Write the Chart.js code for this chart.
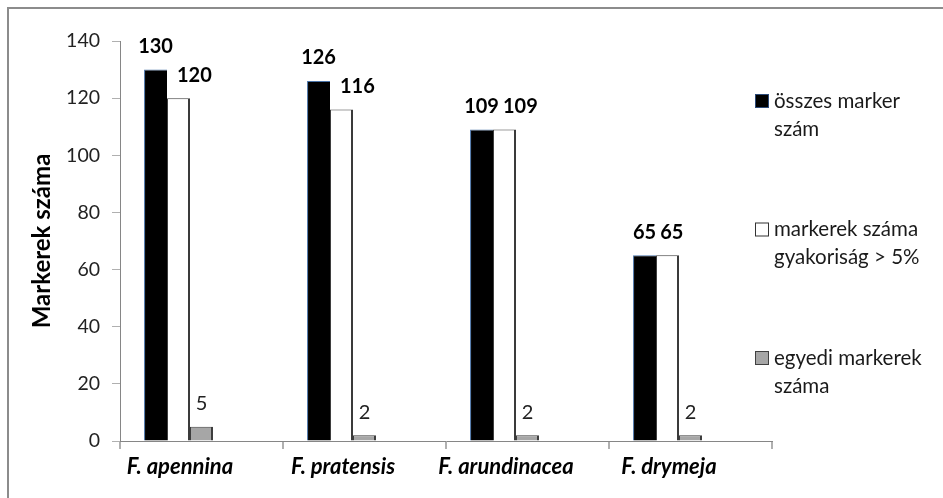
<!DOCTYPE html>
<html>
<head>
<meta charset="utf-8">
<script src="https://cdn.jsdelivr.net/npm/chart.js@4.4.0/dist/chart.umd.min.js"></script>
<style>
  html, body { margin: 0; padding: 0; background: #fff; }
  #wrap { width: 943px; height: 498px; position: relative; }
</style>
</head>
<body>
<div id="wrap"><canvas id="markers"></canvas></div>
<script>
// chart data
const categories = ["F. apennina", "F. pratensis", "F. arundinacea", "F. drymeja"];
const totalMarkers = [130, 126, 109, 65];
const frequentMarkers = [120, 116, 109, 65];
const uniqueMarkers = [5, 2, 2, 2];
const yTicks = [0, 20, 40, 60, 80, 100, 120, 140];
const legendLines = [
  ["összes marker", "szám"],
  ["markerek száma", "gyakoriság > 5%"],
  ["egyedi markerek", "száma"]
];

const axisGrey = "#868686";
const swatches = [
  { fill: "#000000", stroke: "#2c4a78" },
  { fill: "#ffffff", stroke: "#333333" },
  { fill: "#a6a6a6", stroke: "#404040" }
];

// frame, value labels and the wrapped legend
const decorations = {
  id: "decorations",
  beforeDraw(chart) {
    const ctx = chart.ctx;
    ctx.save();
    ctx.fillStyle = "#fff";
    ctx.fillRect(0, 0, chart.width, chart.height);
    ctx.strokeStyle = "#8c8c8c";
    ctx.lineWidth = 2;
    ctx.beginPath();
    ctx.moveTo(8, chart.height);
    ctx.lineTo(8, 8);
    ctx.lineTo(chart.width, 8);
    ctx.stroke();
    ctx.restore();
  },
  afterDatasetsDraw(chart) {
    const ctx = chart.ctx;
    ctx.save();
    ctx.textAlign = "center";
    ctx.textBaseline = "middle";
    const blackMeta = chart.getDatasetMeta(0);
    const whiteMeta = chart.getDatasetMeta(1);
    const greyMeta = chart.getDatasetMeta(2);
    categories.forEach(function (c, i) {
      // first series, centred on the bar
      ctx.font = "bold 20px Lato";
      ctx.fillStyle = "#000";
      const b = blackMeta.data[i];
      const t1 = String(totalMarkers[i]);
      const w1 = ctx.measureText(t1).width;
      ctx.fillText(t1, b.x, b.y - 23);
      // second series, pushed right when it would run into the first
      const w = whiteMeta.data[i];
      const t2 = String(frequentMarkers[i]);
      const w2 = ctx.measureText(t2).width;
      const x2 = Math.max(w.x, b.x + w1 / 2 + 4 + w2 / 2);
      ctx.fillText(t2, x2, w.y - 23);
      // third series
      ctx.font = "20px Lato";
      ctx.fillStyle = "#222";
      const g = greyMeta.data[i];
      ctx.fillText(String(uniqueMarkers[i]), g.x, g.y - 23);
    });

    // legend
    ctx.textAlign = "left";
    ctx.font = "20.5px Lato";
    legendLines.forEach(function (lines, k) {
      const y0 = 101 + k * 128.5;
      ctx.fillStyle = swatches[k].fill;
      ctx.strokeStyle = swatches[k].stroke;
      ctx.lineWidth = 1;
      ctx.fillRect(755.5, y0 - 6.5, 13, 13);
      ctx.strokeRect(755.5, y0 - 6.5, 13, 13);
      ctx.fillStyle = "#1a1a1a";
      lines.forEach(function (txt, j) {
        ctx.fillText(txt, 774, y0 + j * 28);
      });
    });
    ctx.restore();
  }
};

const ctx = document.getElementById("markers").getContext("2d");
const markerChart = new Chart(ctx, {
  type: "bar",
  data: {
    labels: categories,
    datasets: [
      {
        label: "összes marker szám",
        data: totalMarkers,
        backgroundColor: "#000000",
        borderColor: "#4a73a8",
        borderWidth: { left: 1, top: 1, right: 0, bottom: 0 },
        borderSkipped: false
      },
      {
        label: "markerek száma gyakoriság > 5%",
        data: frequentMarkers,
        backgroundColor: "#ffffff",
        borderColor: "#3a3a3a",
        borderWidth: { left: 1, top: 1, right: 2, bottom: 0 },
        borderSkipped: false
      },
      {
        label: "egyedi markerek száma",
        data: uniqueMarkers,
        backgroundColor: "#a6a6a6",
        borderColor: "#3c3c3c",
        borderWidth: { left: 1, top: 1, right: 2, bottom: 0 },
        borderSkipped: false
      },
      // two empty slots, the original groups sit left of the category centre
      { label: "", data: [], backgroundColor: "transparent" },
      { label: "", data: [], backgroundColor: "transparent" }
    ]
  },
  options: {
    responsive: true,
    maintainAspectRatio: false,
    animation: false,
    categoryPercentage: 0.705,
    barPercentage: 1,
    layout: { padding: { top: 41, right: 171, bottom: 0, left: 0 } },
    plugins: {
      legend: { display: false },
      tooltip: { enabled: false }
    },
    scales: {
      x: {
        grid: {
          display: true,
          offset: true,
          drawOnChartArea: false,
          drawTicks: true,
          tickLength: 8,
          color: "#b0b0b0",
          lineWidth: 2
        },
        border: { display: true, color: axisGrey, width: 1 },
        ticks: {
          autoSkip: false,
          maxRotation: 0,
          labelOffset: -21.5,
          padding: 5,
          color: "#000",
          font: { family: "Lato", size: 22, weight: "bold", style: "italic" }
        },
        afterFit: function (scale) { scale.height = 57; }
      },
      y: {
        min: 0,
        max: 140,
        afterBuildTicks: function (scale) {
          scale.ticks = yTicks.map(function (v) { return { value: v }; });
        },
        grid: {
          display: true,
          drawOnChartArea: false,
          drawTicks: true,
          tickLength: 8,
          color: "#b0b0b0"
        },
        border: { display: true, color: axisGrey, width: 1 },
        ticks: {
          padding: 12,
          color: "#222",
          font: { family: "Lato", size: 19.5 }
        },
        title: {
          display: true,
          text: "Markerek száma",
          color: "#000",
          padding: { top: 28, bottom: 0 },
          font: { family: "Lato", size: 24, weight: "bold" }
        },
        afterFit: function (scale) { scale.width = 120; }
      }
    }
  },
  plugins: [decorations]
});
</script>
</body>
</html>
